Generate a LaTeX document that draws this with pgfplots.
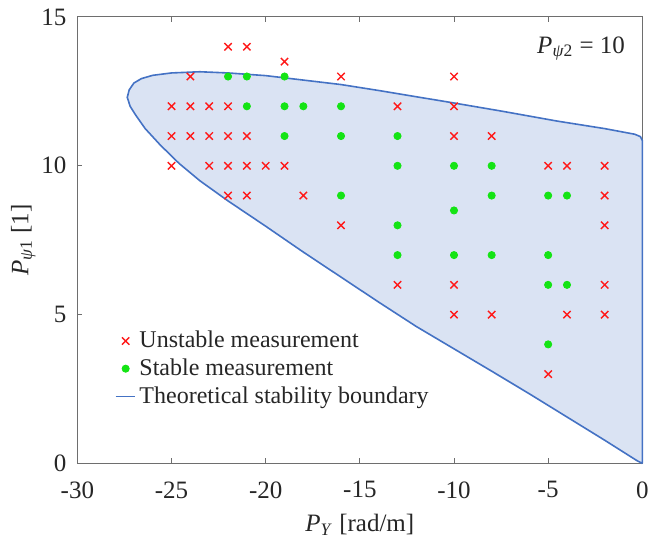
\documentclass[border=0pt]{standalone}
\usepackage{pgfplots}
\pgfplotsset{compat=1.18}
\usepackage{pgfplotstable}
\usepackage{fontspec}
\setmainfont{Liberation Serif}
\definecolor{fillc}{RGB}{218,227,243}
\definecolor{linec}{RGB}{68,114,196}
\definecolor{redc}{RGB}{255,25,25}
\definecolor{greenc}{RGB}{20,228,20}
\definecolor{axc}{RGB}{110,110,110}
\definecolor{txt}{RGB}{38,38,38}

\pgfplotsset{
  markleg/.style={legend image code/.code={\draw[##1] plot coordinates {(4.5pt,0pt)};}},
  lineleg/.style={legend image code/.code={\draw[##1] (-0.5pt,0pt) -- (9pt,0pt);}},
}

\pgfplotstableread{
x y
0 0
-0.3 0.1
-2 0.78
-4 1.56
-6 2.34
-8 3.1
-10 3.85
-12 4.6
-14 5.42
-16 6.26
-18 7.1
-20 7.97
-22 8.82
-23.5 9.5
-24.6 10.08
-25.6 10.7
-26.4 11.25
-26.9 11.7
-27.2 12.0
-27.35 12.3
-27.25 12.55
-27.0 12.78
-26.6 12.93
-26.0 13.04
-25.0 13.12
-23.5 13.16
-22 13.12
-20 13.03
-18 12.88
-16 12.73
-14 12.53
-12 12.32
-10 12.11
-7.5 11.84
-4.5 11.5
-2 11.25
-0.4 11.06
-0.1 10.98
0 10.85
0 0
}\boundary

\pgfplotstableread{
x y
-22 14
-21 14
-19 13.5
-24 13
-16 13
-10 13
-25 12
-24 12
-23 12
-22 12
-13 12
-10 12
-25 11
-24 11
-23 11
-22 11
-21 11
-10 11
-8 11
-25 10
-23 10
-22 10
-21 10
-20 10
-19 10
-5 10
-4 10
-2 10
-22 9
-21 9
-18 9
-2 9
-16 8
-2 8
-13 6
-10 6
-2 6
-10 5
-8 5
-4 5
-2 5
-5 3
}\unstable

\pgfplotstableread{
x y
-22 13
-21 13
-19 13
-21 12
-19 12
-18 12
-16 12
-19 11
-16 11
-13 11
-13 10
-10 10
-8 10
-16 9
-8 9
-5 9
-4 9
-10 8.5
-13 8
-13 7
-10 7
-8 7
-5 7
-5 6
-4 6
-5 4
}\stable

\begin{document}
\begin{tikzpicture}
\begin{axis}[name=ax,
  width=282.5pt, height=223.25pt, scale only axis,
  xmin=-30, xmax=0, ymin=0, ymax=15,
  xtick={-30,-25,-20,-15,-10,-5,0},
  xticklabels={\textrm{-30},\textrm{-25},\textrm{-20},\textrm{-15},\textrm{-10},\textrm{-5},\textrm{0}},
  ytick={0,5,10,15}, yticklabels={\textrm{0},\textrm{5},\textrm{10},\textrm{15}},
  tick align=inside, major tick length=2.5pt,
  axis line style={axc, line width=0.5pt},
  tick style={axc, line width=0.5pt},
  ticklabel style={font=\fontsize{12.5}{14}\selectfont, text=txt},
  xticklabel style={yshift=-5.5pt},
  yticklabel style={xshift=-2pt},
  label style={font=\fontsize{12.5}{14}\selectfont, text=txt},
  xlabel={\textit{P}\textsubscript{\textit{Y}} [rad/m]},
  xlabel style={yshift=-1pt},
  ylabel={\textit{P}\textsubscript{\textit{ψ}1} [1]},
  ylabel style={yshift=-4pt},
  clip=false,
  legend cell align=left,
  legend style={draw=none, fill=none, at={(0.055,0.315)}, anchor=north west,
    font=\fontsize{12}{14}\selectfont, text=txt, row sep=0pt},
]
\addplot[fill=fillc, draw=linec, line width=0.8pt, forget plot] table[x=x,y=y] {\boundary};
\addplot[only marks, mark=x, mark size=2.6pt, redc, line width=0.7pt, markleg]
  table[x=x,y=y] {\unstable};
\addlegendentry{Unstable measurement}
\addplot[only marks, mark=*, mark size=1.8pt, greenc, draw=greenc, markleg]
  table[x=x,y=y] {\stable};
\addlegendentry{Stable measurement}
\addlegendimage{linec, line width=0.8pt, lineleg}
\addlegendentry{Theoretical stability boundary}
\node[anchor=east, inner sep=0pt, font=\fontsize{12.5}{14}\selectfont, text=txt]
  at (axis cs:-0.9,13.94) {\textit{P}\textsubscript{\textit{ψ}2} = 10};
\end{axis}
\path (ax.south west) +(-38.7pt,-40.75pt) (ax.north east) +(9.85pt,8.5pt);
\end{tikzpicture}
\end{document}
